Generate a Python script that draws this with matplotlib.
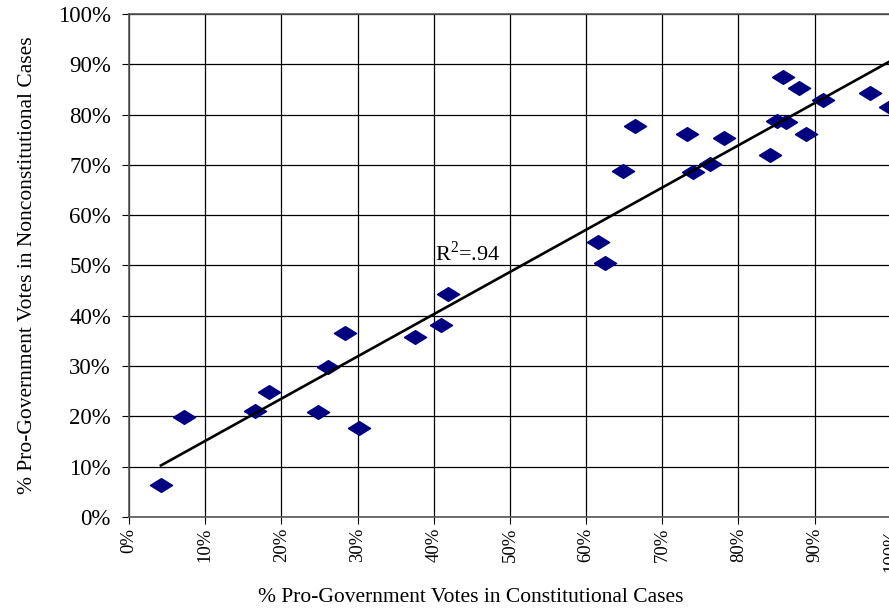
import numpy as np
import matplotlib
matplotlib.use("Agg")
import matplotlib.pyplot as plt
from matplotlib.ticker import FuncFormatter

# % pro-government votes, constitutional (x) vs nonconstitutional (y)
constitutional = [4.2, 7.2, 16.6, 18.4, 24.8, 26.1, 28.4, 30.2, 37.5, 40.9, 41.9,
                  61.5, 62.5, 64.8, 66.4, 73.3, 74.0, 76.3, 78.1, 84.2, 85.0,
                  85.8, 86.2, 88.0, 88.8, 91.1, 97.2, 99.9]
nonconstitutional = [6.4, 19.9, 21.1, 24.9, 20.9, 29.8, 36.6, 17.7, 35.8, 38.2, 44.3,
                     54.7, 50.5, 68.8, 77.7, 76.1, 68.6, 70.2, 75.3, 72.0, 78.7,
                     87.5, 78.5, 85.3, 76.1, 82.9, 84.3, 81.5]
r2_label = "R$^2$=.94"

plt.rcParams['font.family'] = ['Liberation Serif', 'DejaVu Serif']
plt.rcParams['mathtext.fontset'] = 'custom'
plt.rcParams['mathtext.rm'] = 'Liberation Serif'

fig = plt.figure(figsize=(8.89, 6.08), dpi=100)
ax = fig.add_axes([0.1451, 0.150, 0.857, 0.827])

x = np.array(constitutional)
y = np.array(nonconstitutional)

diamond = [(-1, 0), (0, 0.62), (1, 0), (0, -0.62), (-1, 0)]
ax.plot(x, y, linestyle='none', marker=diamond, markersize=16,
        color='#000080', zorder=3, clip_on=False)

# linear trend line
slope, intercept = np.polyfit(x, y, 1)
xs = np.array([x.min(), 100])
ax.plot(xs, slope * xs + intercept, color='black', linewidth=1.9, zorder=4)

ax.text(40.2, 50.9, r2_label, fontsize=16, va='baseline', ha='left')

ax.set_xlim(0, 100)
ax.set_ylim(0, 100)
ax.set_xticks(np.arange(0, 101, 10))
ax.set_yticks(np.arange(0, 101, 10))
pct = FuncFormatter(lambda v, p: f"{v:.0f}%")
ax.xaxis.set_major_formatter(pct)
ax.yaxis.set_major_formatter(pct)
ax.tick_params(axis='x', labelrotation=90, labelsize=13.5, length=5, pad=3)
ax.tick_params(axis='y', labelsize=16.5, length=5, pad=8)
ax.grid(True, color='black', linewidth=0.9)
ax.set_axisbelow(True)
for s in ax.spines.values():
    s.set_color('#555555')
    s.set_linewidth(1.2)

ax.set_xlabel("% Pro-Government Votes in Constitutional Cases", fontsize=15.5)
ax.xaxis.set_label_coords(0.448, -0.142)
ax.set_ylabel("% Pro-Government Votes in Nonconstitutional Cases", fontsize=15.5, labelpad=15)

fig.savefig("out.png", dpi=100)
